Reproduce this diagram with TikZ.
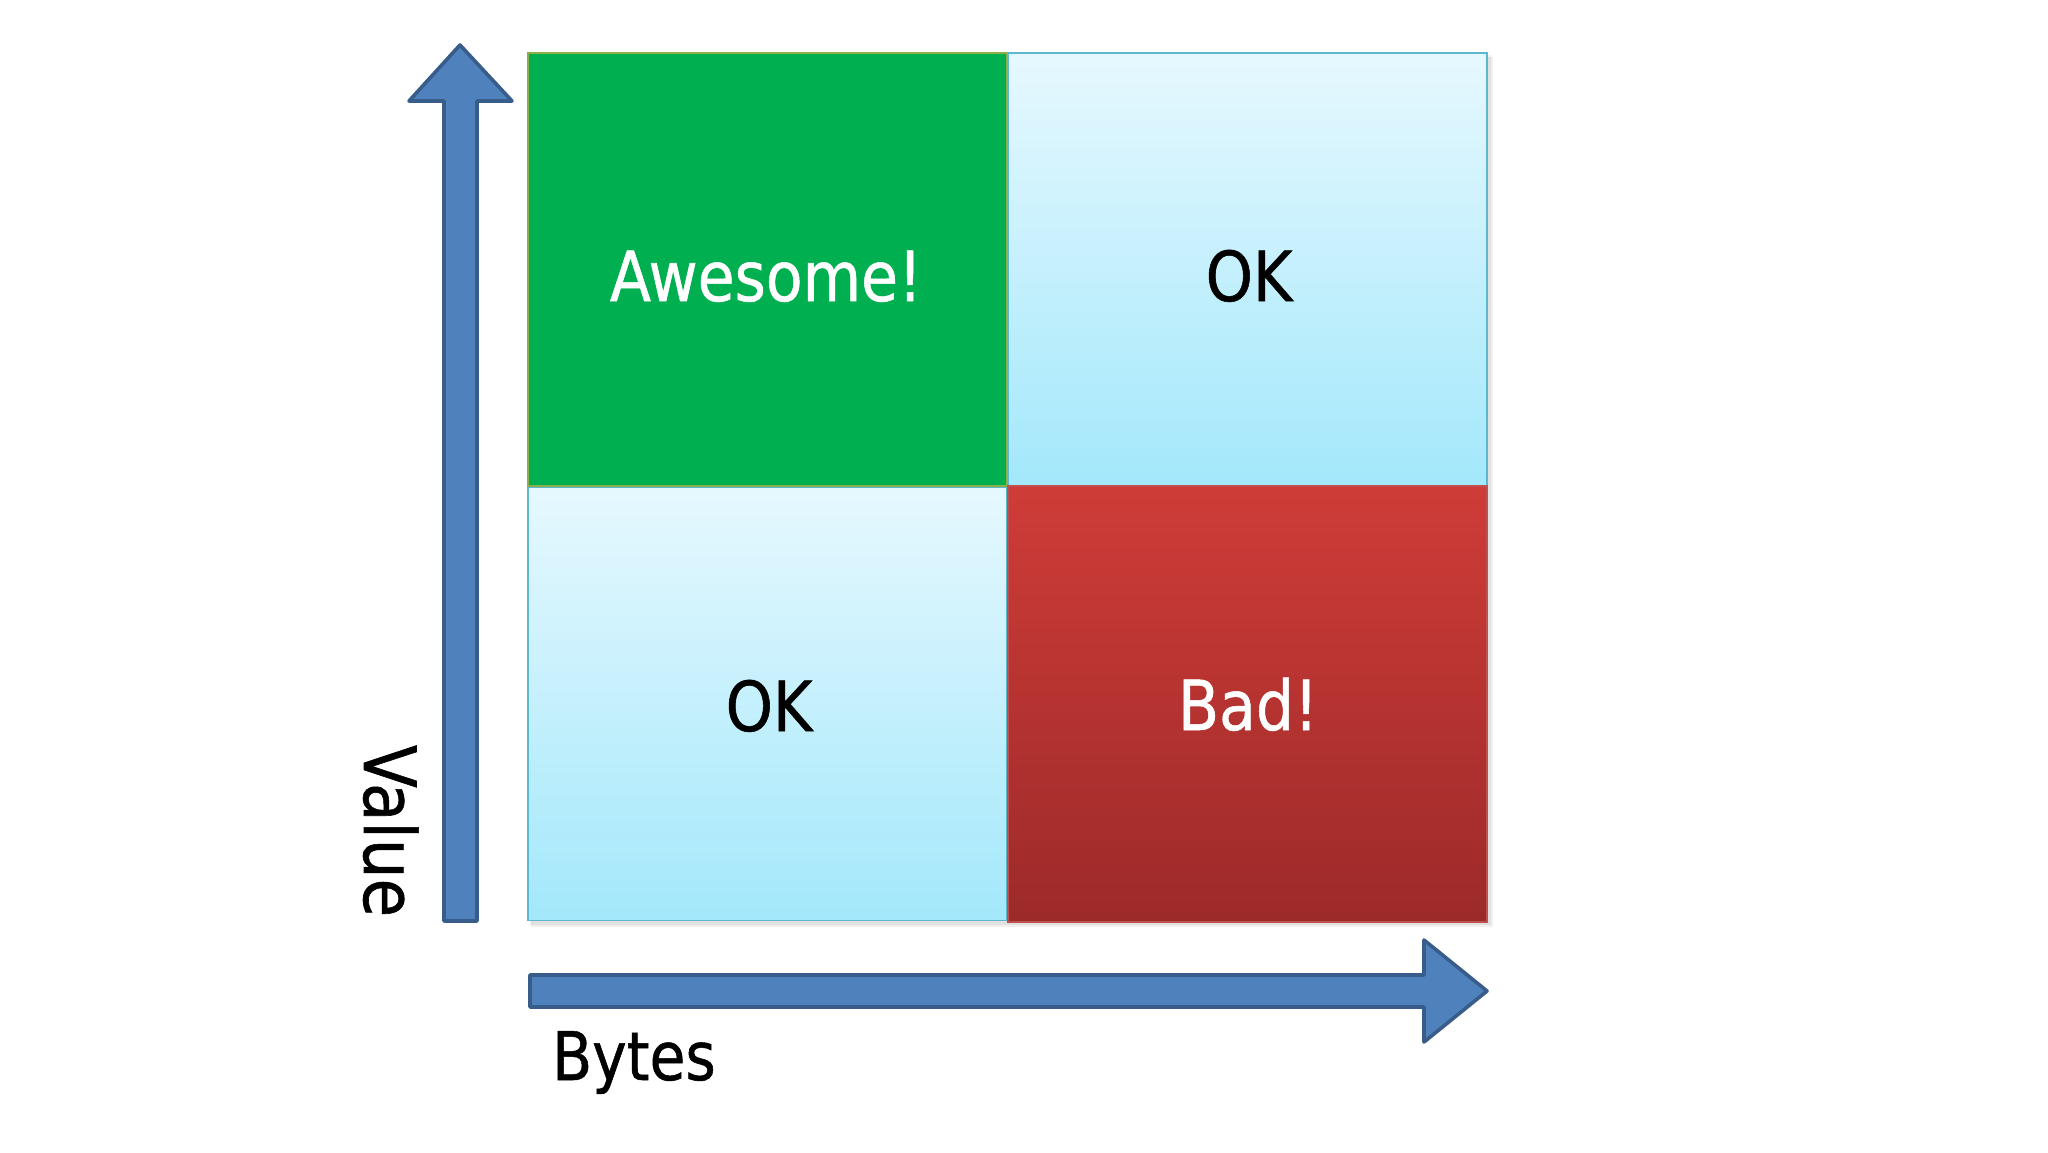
\documentclass[tikz,border=0pt]{standalone}
\usepackage{fontspec}
\setmainfont{DejaVu Sans}[FakeStretch=0.87,FakeBold=0.8]
\definecolor{awgreen}{HTML}{00B050}
\definecolor{awgreenline}{HTML}{8DB046}
\definecolor{oktop}{HTML}{E6F8FE}
\definecolor{okbot}{HTML}{A3E8FB}
\definecolor{okline}{HTML}{5BB8CF}
\definecolor{badtop}{HTML}{CF3C38}
\definecolor{badbot}{HTML}{9C2A29}
\definecolor{badline}{HTML}{C0504D}
\definecolor{arrfill}{HTML}{4F81BD}
\definecolor{arrline}{HTML}{385D8A}
\tikzset{
  cell/.style={inner sep=0pt, minimum width=479pt, minimum height=433pt, line width=1.2pt},
  lbl/.style={inner sep=0pt, anchor=base, font=\fontsize{69}{80}\selectfont},
  axisarrow/.style={fill=arrfill, draw=arrline, line width=3.6pt, line join=round},
  axislbl/.style={inner sep=0pt, anchor=base, text=black}
}
\begin{document}
\begin{tikzpicture}[x=1pt,y=-1pt]
\useasboundingbox[fill=white] (0,0) rectangle (2048,1152);
% soft shadow
\fill[black, opacity=0.06] (531,57) rectangle (1493,927);
\fill[black, opacity=0.06] (530,55) rectangle (1491,925);
% cells
\node[cell, fill=awgreen, draw=awgreenline] (aw) at (767.5,269.5) {};
\node[cell, top color=oktop, bottom color=okbot, draw=okline] (okt) at (1247.5,269.5) {};
\node[cell, top color=oktop, bottom color=okbot, draw=okline] (okb) at (767.5,704) {};
\node[cell, top color=badtop, bottom color=badbot, draw=badline, minimum height=436pt] (bad) at (1247.5,704) {};
% labels
\node[lbl, text=white] (taw) at (766,301) {Awesome!};
\node[lbl, text=black] (tokt) at (1249,301) {OK};
\node[lbl, text=black] (tokb) at (769,731) {OK};
\node[lbl, text=white] (tbad) at (1248,730) {Bad!};
% axes
\draw[axisarrow] (444,921) -- (444,101) -- (409,101) -- (460,45) -- (512,101) -- (477,101) -- (477,921) -- cycle;
\draw[axisarrow] (530,975) -- (1424,975) -- (1424,940) -- (1487,991) -- (1424,1042) -- (1424,1007) -- (530,1007) -- cycle;
\node[axislbl, rotate=-90, font=\fontsize{72}{80}\selectfont] (val) at (364,831) {Value};
\node[axislbl, font=\fontsize{67}{80}\selectfont] (byt) at (634,1080) {Bytes};
\end{tikzpicture}
\end{document}
